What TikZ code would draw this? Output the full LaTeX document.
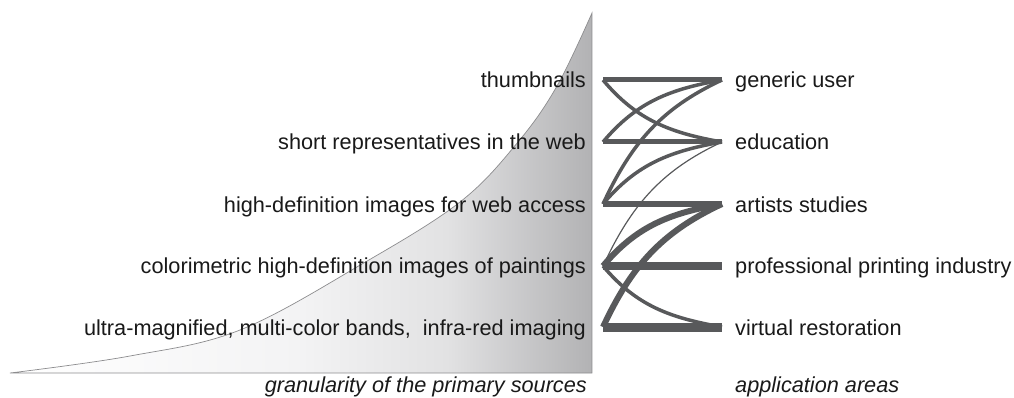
\documentclass[tikz,border=0pt]{standalone}
\usepackage{fontspec}
\setmainfont{Liberation Sans}
\definecolor{edge}{RGB}{88,89,91}
\definecolor{outl}{RGB}{140,140,142}
\definecolor{sha}{RGB}{243,243,244}
\definecolor{shb}{RGB}{226,226,227}
\definecolor{shc}{RGB}{178,178,180}
\definecolor{txt}{RGB}{25,25,25}
\pgfdeclarehorizontalshading{granshade}{100bp}{color(0bp)=(white); color(25bp)=(white); color(50bp)=(sha); color(62.5bp)=(shb); color(75bp)=(shc); color(100bp)=(shc)}
\begin{document}
\begin{tikzpicture}[x=1pt,y=-1pt,
  lab/.style={font=\fontsize{21.7}{24}\selectfont, inner sep=0pt, text=txt},
  leftlab/.style={lab, anchor=base east},
  rightlab/.style={lab, anchor=base west},
  axislab/.style={font=\fontsize{21.7}{24}\selectfont\itshape, inner sep=0pt, text=txt},
  conn/.style={draw=edge, line cap=butt, line join=round},
  up/.style={out=50, in=190},
  steep/.style={out=65, in=205},
  down/.style={out=-50, in=170}]
\useasboundingbox (0,0) rectangle (1014,398);
% shaded granularity shape
\shade[shading=granshade] plot[smooth, tension=0.6] coordinates {(10,373) (130,356) (240,330) (362,264) (460,202) (518,142) (557,86) (592,13)} -- (592,373) -- cycle;
\draw[outl, line width=0.7pt] plot[smooth, tension=0.6] coordinates {(10,373) (130,356) (240,330) (362,264) (460,202) (518,142) (557,86) (592,13)} -- (592,373) -- cycle;
% left labels
\node[leftlab] (t1) at (586,88) {thumbnails};
\node[leftlab] (t2) at (586,150) {short representatives in the web};
\node[leftlab] (t3) at (586,212) {high-definition images for web access};
\node[leftlab] (t4) at (586,273) {colorimetric high-definition images of paintings};
\node[leftlab] (t5) at (586,335) {ultra-magnified, multi-color bands,\ \ infra-red imaging};
% right labels
\node[rightlab] (a1) at (735,88) {generic user};
\node[rightlab] (a2) at (735,150) {education};
\node[rightlab] (a3) at (735,212) {artists studies};
\node[rightlab] (a4) at (735,273) {professional printing industry};
\node[rightlab] (a5) at (735,335) {virtual restoration};
% axis labels
\node[axislab, anchor=base east] (gx) at (587,392) {granularity of the primary sources};
\node[axislab, anchor=base west] (ax) at (735,392) {application areas};
% connector ends
\coordinate (L1) at (603,80);  \coordinate (R1) at (722,80);
\coordinate (L2) at (603,142); \coordinate (R2) at (722,142);
\coordinate (L3) at (603,204); \coordinate (R3) at (722,204);
\coordinate (L4) at (603,266); \coordinate (R4) at (722,266);
\coordinate (L5) at (603,327); \coordinate (R5) at (722,327);
% connectors
\draw[conn, line width=5pt] (L1) -- (R1);
\draw[conn, line width=3.5pt] (L1) to[down] (R2);
\draw[conn, line width=3.5pt] (L2) to[up] (R1);
\draw[conn, line width=5pt] (L2) -- (R2);
\draw[conn, line width=3.5pt] (L3) to[steep] (R1);
\draw[conn, line width=3.5pt] (L3) to[up] (R2);
\draw[conn, line width=1.2pt] (L4) to[steep] (R2);
\draw[conn, line width=6.5pt] (L3) -- (R3);
\draw[conn, line width=6pt] (L4) to[up] (R3);
\draw[conn, line width=6pt] (L5) to[steep] (R3);
\draw[conn, line width=8.5pt] (L4) -- (R4);
\draw[conn, line width=3.5pt] (L4) to[down] (R5);
\draw[conn, line width=9pt] (L5) -- (R5);
\end{tikzpicture}
\end{document}
